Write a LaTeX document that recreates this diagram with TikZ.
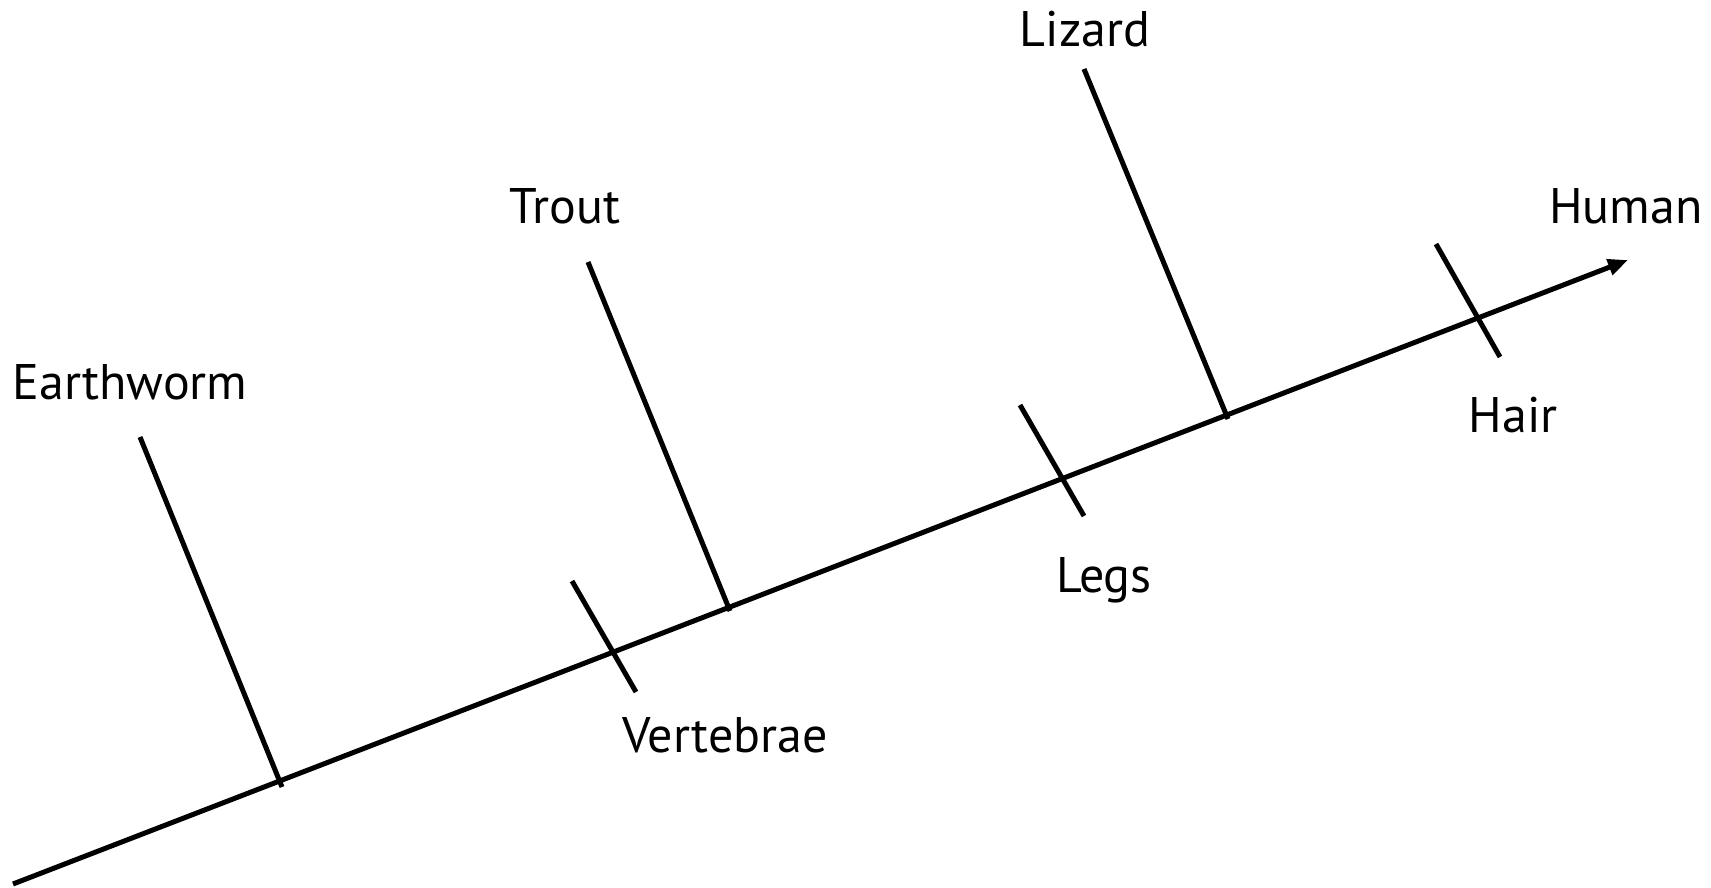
\documentclass[tikz,border=0pt]{standalone}
\usepackage{fontspec}
\setmainfont{PT Sans}
\usetikzlibrary{arrows.meta}

\begin{document}
\begin{tikzpicture}[
    x=1pt, y=-1pt, % pixel grid of the reference
    axis/.style={line width=5pt, -{Triangle[length=20pt, width=16pt]}},
    branch/.style={line width=5pt},
    tick/.style={line width=5pt},
    taxon/.style={font=\fontsize{50}{55}\selectfont, inner sep=0pt, anchor=base}
]
  \useasboundingbox (0,0) rectangle (1711,888);

  % --- Main line ---
  \coordinate (root) at (13,884);
  \coordinate (tip) at (1628,260);
  \draw[axis] (root) -- (tip);

  % --- Labels ---
  \node[taxon] (earthworm) at (130,399) {Earthworm};
  \node[taxon] (trout) at (565,223) {Trout};
  \node[taxon] (lizard) at (1085,47) {Lizard};
  \node[taxon] (human) at (1626,223) {Human};
  \node[taxon] (vertebrae) at (725,752) {Vertebrae};
  \node[taxon] (legs) at (1104,592) {Legs};
  \node[taxon] (hair) at (1513,432) {Hair};

  % --- Branches off the main line ---
  \coordinate (earthworm-top) at (140,437);
  \coordinate (earthworm-foot) at (282,787);
  \coordinate (trout-top) at (588,262);
  \coordinate (trout-foot) at (730,611);
  \coordinate (lizard-top) at (1084,69);
  \coordinate (lizard-foot) at (1228,419);
  \draw[branch] (earthworm-top) -- (earthworm-foot);
  \draw[branch] (trout-top) -- (trout-foot);
  \draw[branch] (lizard-top) -- (lizard-foot);

  % --- Trait ticks across the main line ---
  \coordinate (vertebrae-a) at (572,581);
  \coordinate (vertebrae-b) at (636,692);
  \coordinate (legs-a) at (1020,405);
  \coordinate (legs-b) at (1084,516);
  \coordinate (hair-a) at (1436,244);
  \coordinate (hair-b) at (1500,357);
  \draw[tick] (vertebrae-a) -- (vertebrae-b);
  \draw[tick] (legs-a) -- (legs-b);
  \draw[tick] (hair-a) -- (hair-b);

\end{tikzpicture}
\end{document}
